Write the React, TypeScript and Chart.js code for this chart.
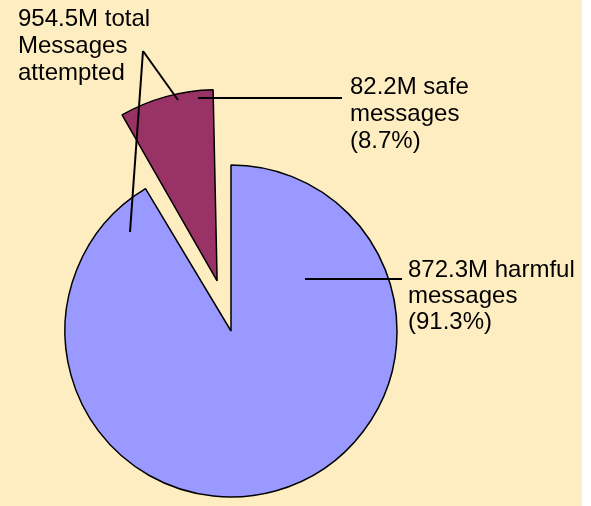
import React, { useEffect, useRef } from "react";
import { Chart, registerables } from "chart.js";

Chart.register(...registerables);

const categories = ["harmful messages", "safe messages"];
const valuesM = [872.3, 82.2];
const percents = ["91.3%", "8.7%"];
const totalLabel = ["954.5M total", "Messages", "attempted"];
const safeLabel = ["82.2M safe", "messages", "(8.7%)"];
const harmfulLabel = ["872.3M harmful", "messages", "(91.3%)"];
const sliceColors = ["#9999FF", "#993366"];

const calloutPlugin = {
  id: "callouts",
  beforeDraw(chart: any) {
    const ctx = chart.ctx;
    ctx.save();
    ctx.fillStyle = "#FFEDC2";
    ctx.fillRect(0, 0, 582, chart.height);
    ctx.restore();
  },
  afterDraw(chart: any) {
    const ctx = chart.ctx;
    const arc = chart.getDatasetMeta(0).data[0];
    const cx = arc.x;
    const cy = arc.y;
    ctx.save();
    ctx.strokeStyle = "#000";
    ctx.lineWidth = 2;
    const line = (x1: number, y1: number, x2: number, y2: number) => {
      ctx.beginPath();
      ctx.moveTo(cx + x1, cy + y1);
      ctx.lineTo(cx + x2, cy + y2);
      ctx.stroke();
    };
    line(-88, -280, -53, -231);
    line(-88, -280, -101, -99);
    line(-33, -233, 111, -233);
    line(74, -52, 171, -52);
    ctx.fillStyle = "#000";
    ctx.font = '24px "Liberation Sans", Arial, sans-serif';
    ctx.textBaseline = "alphabetic";
    ctx.textAlign = "left";
    const block = (lines: string[], x: number, y: number, lh: number) => {
      lines.forEach((t, i) => ctx.fillText(t, cx + x, cy + y + i * lh));
    };
    block(totalLabel, -213, -305, 27);
    block(safeLabel, 119, -237, 27);
    block(harmfulLabel, 177, -54, 26);
    ctx.restore();
  },
};

export default function App() {
  const ref = useRef<HTMLCanvasElement | null>(null);
  useEffect(() => {
    if (!ref.current) return;
    const chart = new Chart(ref.current, {
      type: "pie",
      data: {
        labels: categories.map((c, i) => `${c} (${percents[i]})`),
        datasets: [
          {
            data: valuesM,
            backgroundColor: sliceColors,
            borderColor: "#000",
            borderWidth: 1.5,
            offset: [0, 208],
          },
        ],
      },
      options: {
        responsive: false,
        animation: false,
        devicePixelRatio: 1,
        radius: 166,
        layout: { padding: { left: 0, right: 129, top: 156, bottom: 0 } },
        plugins: {
          legend: { display: false },
          tooltip: { enabled: false },
        },
        events: [],
      } as any,
      plugins: [calloutPlugin],
    });
    return () => chart.destroy();
  }, []);
  return (
    <div style={{ position: "fixed", left: 0, top: 0, width: 591, height: 506, background: "#fff" }}>
      <canvas ref={ref} width={591} height={506} style={{ display: "block" }} />
    </div>
  );
}
